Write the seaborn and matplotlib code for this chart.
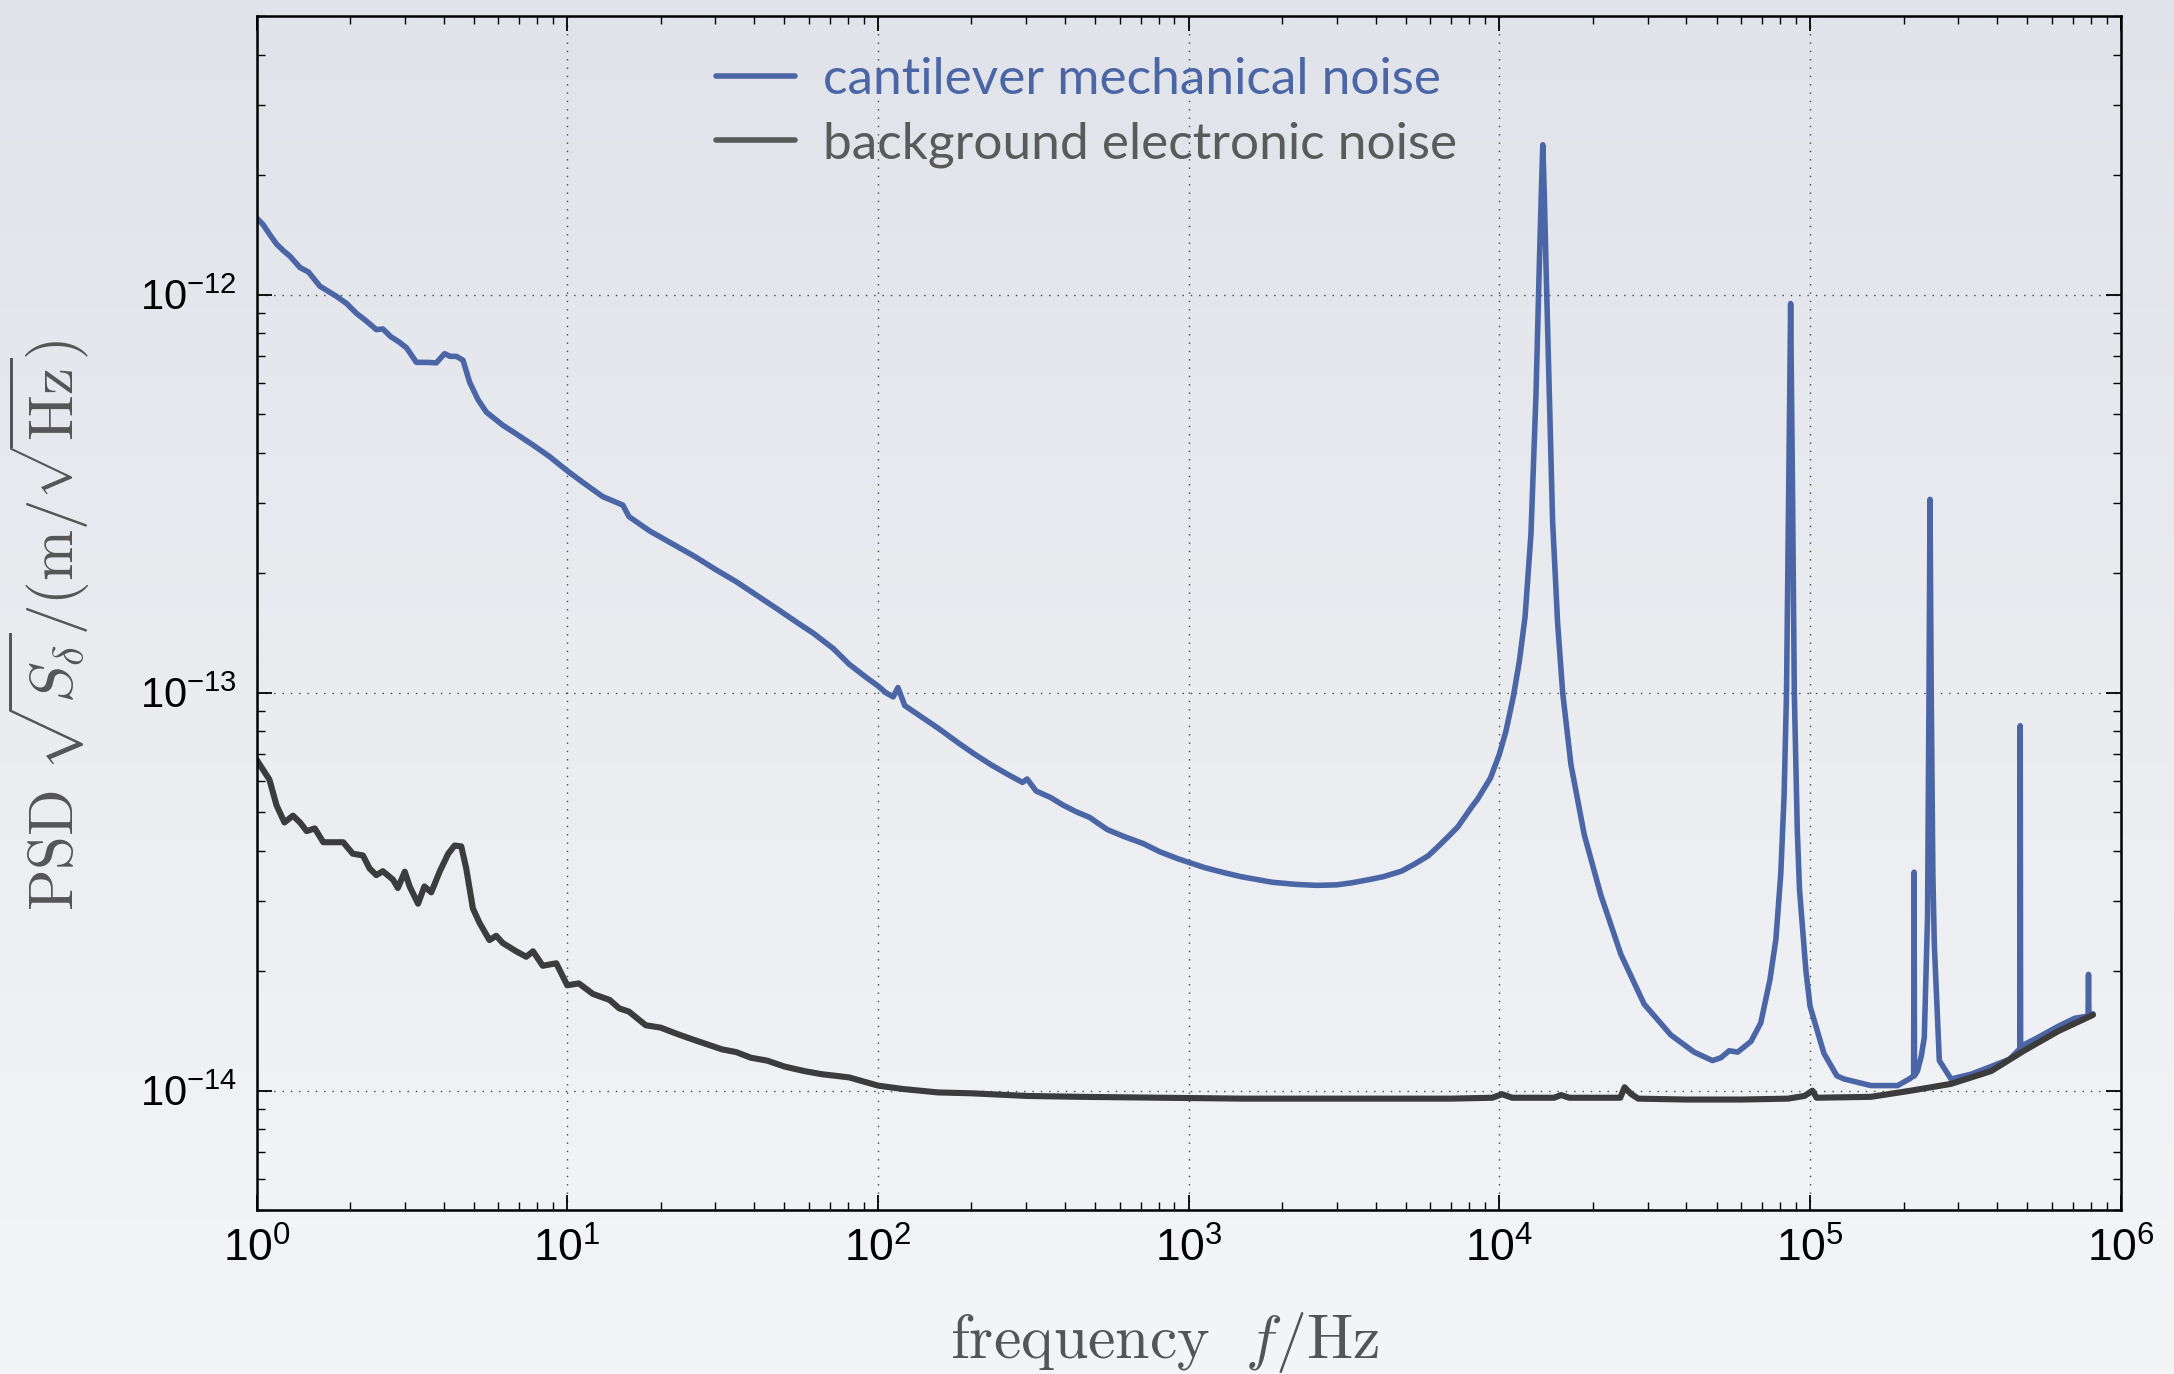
import numpy as np
import pandas as pd
import matplotlib
matplotlib.use("Agg")
import matplotlib.pyplot as plt
import seaborn as sns
from matplotlib.lines import Line2D
from matplotlib.colors import LinearSegmentedColormap
from matplotlib.ticker import LogLocator, FixedLocator, FixedFormatter, NullFormatter
from matplotlib import font_manager

# ---------------- data ----------------
cant_f = [1.0, 1.05, 1.1, 1.16, 1.22, 1.28, 1.38, 1.47, 1.6, 1.81, 1.95, 2.1, 2.25, 2.43,
          2.55, 2.7, 2.88, 3.04, 3.27, 3.52, 3.79, 4.03, 4.2, 4.40, 4.62, 4.85, 5.16, 5.49,
          5.8, 6.2, 6.85, 7.76, 8.77, 10.0, 11.2, 13.0, 15.1, 15.8, 18.4, 21.5, 25.7, 30.0,
          35.0, 41.0, 47.6, 55.0, 62.0, 71.9, 80.7, 92, 100, 106, 112, 116, 122, 137, 156,
          184, 205, 232, 260, 292, 302, 323, 360, 394, 435, 480, 547, 620, 713, 810, 929,
          1132, 1300, 1473, 1856, 2200, 2582, 3000, 3362, 3800, 4238, 4838, 5300, 5900,
          6340, 6950, 7350, 8200, 8510, 9360, 10000, 10500, 11100, 11600, 12100, 12640,
          13120, 13450, 13650, 13800, 13950, 14130, 14490, 14840, 15400, 15990, 17000,
          18760, 21220, 24620, 29240, 35650, 42360, 48530, 51640, 54950, 58480, 64570,
          69400, 74300, 77640, 80500, 82500, 84000, 85300, 86000, 86600, 87200, 87900,
          89000, 91000, 92500, 97000, 100000, 110900, 122000, 128700, 157000, 191400,
          208600, 215500, 216200, 216900, 221600, 228000, 233200, 238900, 241500, 243300,
          245500, 248500, 251200, 260700, 284300, 329800, 382600, 438500, 466600, 473500,
          474800, 476200, 484000, 541000, 628000, 710600, 785000, 787500, 790000, 814000]
cant_psd = [1.56e-12, 1.50e-12, 1.42e-12, 1.34e-12, 1.29e-12, 1.25e-12, 1.17e-12, 1.14e-12,
            1.05e-12, 9.9e-13, 9.5e-13, 8.97e-13, 8.6e-13, 8.17e-13, 8.2e-13, 7.85e-13,
            7.6e-13, 7.35e-13, 6.76e-13, 6.76e-13, 6.74e-13, 7.11e-13, 7.0e-13, 7.0e-13,
            6.84e-13, 6.03e-13, 5.45e-13, 5.07e-13, 4.9e-13, 4.70e-13, 4.47e-13, 4.19e-13,
            3.92e-13, 3.61e-13, 3.38e-13, 3.11e-13, 2.96e-13, 2.77e-13, 2.55e-13, 2.38e-13,
            2.2e-13, 2.04e-13, 1.9e-13, 1.75e-13, 1.62e-13, 1.5e-13, 1.41e-13, 1.29e-13,
            1.18e-13, 1.09e-13, 1.04e-13, 1.0e-13, 9.76e-14, 1.03e-13, 9.28e-14, 8.73e-14,
            8.15e-14, 7.42e-14, 7.0e-14, 6.58e-14, 6.25e-14, 5.95e-14, 6.07e-14, 5.66e-14,
            5.45e-14, 5.22e-14, 5.02e-14, 4.86e-14, 4.53e-14, 4.35e-14, 4.18e-14, 3.98e-14,
            3.82e-14, 3.63e-14, 3.53e-14, 3.45e-14, 3.34e-14, 3.3e-14, 3.28e-14, 3.29e-14,
            3.33e-14, 3.39e-14, 3.45e-14, 3.56e-14, 3.7e-14, 3.89e-14, 4.1e-14, 4.4e-14,
            4.6e-14, 5.2e-14, 5.4e-14, 6.1e-14, 7.0e-14, 8.0e-14, 9.8e-14, 1.2e-13, 1.55e-13,
            2.5e-13, 5.6e-13, 1.19e-12, 1.8e-12, 2.38e-12, 1.8e-12, 1.19e-12, 5.61e-13,
            2.7e-13, 1.5e-13, 1.0e-13, 6.6e-14, 4.4e-14, 3.1e-14, 2.2e-14, 1.65e-14,
            1.38e-14, 1.25e-14, 1.19e-14, 1.21e-14, 1.26e-14, 1.25e-14, 1.33e-14, 1.48e-14,
            1.9e-14, 2.4e-14, 3.5e-14, 5.5e-14, 1.0e-13, 3.0e-13, 5.5e-13, 9.5e-13, 5.5e-13,
            3.0e-13, 1.0e-13, 4.5e-14, 3.2e-14, 2.0e-14, 1.63e-14, 1.24e-14, 1.09e-14,
            1.07e-14, 1.03e-14, 1.03e-14, 1.07e-14, 1.09e-14, 3.54e-14, 1.09e-14, 1.12e-14,
            1.22e-14, 1.36e-14, 2.74e-14, 1.0e-13, 3.06e-13, 1.0e-13, 3.5e-14, 2.33e-14,
            1.19e-14, 1.07e-14, 1.10e-14, 1.15e-14, 1.20e-14, 1.26e-14, 1.27e-14, 8.26e-14,
            1.28e-14, 1.30e-14, 1.36e-14, 1.45e-14, 1.52e-14, 1.54e-14, 1.96e-14, 1.55e-14,
            1.56e-14]

bg_f = [1.0, 1.05, 1.10, 1.16, 1.23, 1.31, 1.38, 1.45, 1.54, 1.64, 1.76, 1.90, 2.04, 2.20,
        2.31, 2.43, 2.55, 2.75, 2.85, 3.0, 3.11, 3.31, 3.47, 3.65, 3.89, 4.14, 4.34, 4.56,
        4.73, 4.97, 5.22, 5.62, 5.91, 6.20, 6.85, 7.38, 7.76, 8.34, 9.22, 10.0, 10.9, 12.1,
        13.7, 14.7, 15.8, 17.9, 20.0, 22.5, 25.0, 28.0, 31.5, 35.0, 39.0, 44.0, 50.0, 58.0,
        66.0, 80.7, 100, 120, 156, 200, 302, 450, 813, 1500, 2200, 4000, 7000, 9500, 10200,
        11000, 15000, 15800, 16800, 24500, 25300, 25900, 26600, 28000, 40000, 60000, 85000,
        96000, 101800, 105000, 157000, 211000, 284000, 382600, 488000, 628000, 814000]
bg_psd = [6.79e-14, 6.4e-14, 6.05e-14, 5.21e-14, 4.72e-14, 4.91e-14, 4.72e-14, 4.49e-14,
          4.56e-14, 4.21e-14, 4.21e-14, 4.21e-14, 3.94e-14, 3.9e-14, 3.62e-14, 3.48e-14,
          3.56e-14, 3.39e-14, 3.23e-14, 3.55e-14, 3.26e-14, 2.95e-14, 3.26e-14, 3.15e-14,
          3.56e-14, 3.94e-14, 4.13e-14, 4.11e-14, 3.62e-14, 2.87e-14, 2.64e-14, 2.39e-14,
          2.45e-14, 2.35e-14, 2.24e-14, 2.17e-14, 2.24e-14, 2.06e-14, 2.09e-14, 1.84e-14,
          1.86e-14, 1.75e-14, 1.69e-14, 1.61e-14, 1.58e-14, 1.46e-14, 1.44e-14, 1.39e-14,
          1.35e-14, 1.31e-14, 1.27e-14, 1.25e-14, 1.21e-14, 1.19e-14, 1.15e-14, 1.12e-14,
          1.10e-14, 1.08e-14, 1.03e-14, 1.01e-14, 9.9e-15, 9.85e-15, 9.7e-15, 9.65e-15,
          9.6e-15, 9.55e-15, 9.55e-15, 9.55e-15, 9.55e-15, 9.6e-15, 9.8e-15, 9.6e-15,
          9.6e-15, 9.75e-15, 9.6e-15, 9.6e-15, 1.02e-14, 1.0e-14, 9.8e-15, 9.55e-15, 9.5e-15,
          9.5e-15, 9.55e-15, 9.7e-15, 1.0e-14, 9.6e-15, 9.65e-15, 1.0e-14, 1.04e-14, 1.12e-14,
          1.26e-14, 1.41e-14, 1.55e-14]

series_labels = ["cantilever mechanical noise", "background electronic noise"]
x_tick_exponents = [0, 1, 2, 3, 4, 5, 6]
y_tick_exponents = [-14, -13, -12]

BLUE = "#4a66a6"
DARK = "#3c3c3c"
LEG_GREY = "#5a5a5a"
LABEL_GREY = "#555555"

# ---------------- style ----------------
sns.set_theme(style="ticks")
installed = {f.name for f in font_manager.fontManager.ttflist}
narrow = "Liberation Sans Narrow" if "Liberation Sans Narrow" in installed else "Liberation Sans"
plt.rcParams.update({
    "font.family": ["Liberation Sans", "DejaVu Sans"],
    "mathtext.fontset": "custom",
    "mathtext.rm": narrow,
    "mathtext.it": narrow + ":italic",
    "mathtext.bf": narrow + ":bold",
})

fig = plt.figure(figsize=(21.74, 13.74), dpi=100)

# background gradient
bg = fig.add_axes([0, 0, 1, 1], zorder=-10)
bg.axis("off")
cmap = LinearSegmentedColormap.from_list("bgc", ["#e0e3e9", "#f4f5f7"])
bg.imshow(np.linspace(0, 1, 256).reshape(-1, 1), aspect="auto", cmap=cmap,
          extent=[0, 1, 0, 1], origin="upper")

ax = fig.add_axes([0.118, 0.119, 0.8575, 0.869])
ax.set_facecolor("none")

df_c = pd.DataFrame({"f": cant_f, "psd": cant_psd})
df_b = pd.DataFrame({"f": bg_f, "psd": bg_psd})
sns.lineplot(data=df_c, x="f", y="psd", ax=ax, color=BLUE, lw=4.0, estimator=None,
             sort=False, legend=False, solid_joinstyle="round", solid_capstyle="round")
sns.lineplot(data=df_b, x="f", y="psd", ax=ax, color=DARK, lw=4.4, estimator=None,
             sort=False, legend=False, solid_joinstyle="round", solid_capstyle="round")

ax.set_xscale("log")
ax.set_yscale("log")
ax.set_xlim(1, 1e6)
ax.set_ylim(5e-15, 5e-12)

ax.xaxis.set_major_locator(FixedLocator([10.0 ** e for e in x_tick_exponents]))
ax.xaxis.set_major_formatter(FixedFormatter([r"$10^{%d}$" % e for e in x_tick_exponents]))
ax.yaxis.set_major_locator(FixedLocator([10.0 ** e for e in y_tick_exponents]))
ax.yaxis.set_major_formatter(FixedFormatter([r"$10^{%d}$" % e for e in y_tick_exponents]))
ax.xaxis.set_minor_locator(LogLocator(base=10, subs=np.arange(2, 10), numticks=100))
ax.yaxis.set_minor_locator(LogLocator(base=10, subs=np.arange(2, 10), numticks=100))
ax.xaxis.set_minor_formatter(NullFormatter())
ax.yaxis.set_minor_formatter(NullFormatter())

ax.tick_params(which="both", direction="in", top=True, right=True, colors="black")
ax.tick_params(which="major", length=11, width=1.3)
ax.tick_params(which="minor", length=6, width=1.0)
ax.tick_params(axis="x", which="major", pad=12, labelsize=32)
ax.tick_params(axis="y", which="major", pad=14, labelsize=30)

for s in ax.spines.values():
    s.set_linewidth(1.8)
    s.set_color("black")

ax.grid(True, which="major", linestyle=(0, (1, 5)), color="#444444", lw=1.0)

ax.set_xlabel(r"$\mathrm{frequency}\ \ f/\mathrm{Hz}$", fontsize=44.5, color=LABEL_GREY,
              math_fontfamily="cm")
ax.set_ylabel(r"$\mathrm{PSD}\ \sqrt{S_\delta}/(\mathrm{m}/\sqrt{\mathrm{Hz}})$", fontsize=44,
              color=LABEL_GREY, math_fontfamily="cm")
ax.xaxis.set_label_coords(0.487, -0.083)
ax.yaxis.set_label_coords(-0.088, 0.49)

handles = [Line2D([], [], color=BLUE, lw=4.0), Line2D([], [], color=LEG_GREY, lw=4.0)]
leg = ax.legend(handles, series_labels, loc="upper left", bbox_to_anchor=(0.2355, 0.983),
                frameon=False, prop={"family": "Lato", "weight": "normal", "size": 37},
                handlelength=1.54, handletextpad=0.54, labelspacing=0.35, borderaxespad=0)
for txt, c in zip(leg.get_texts(), [BLUE, LEG_GREY]):
    txt.set_color(c)

fig.savefig("out.png", dpi=100)
